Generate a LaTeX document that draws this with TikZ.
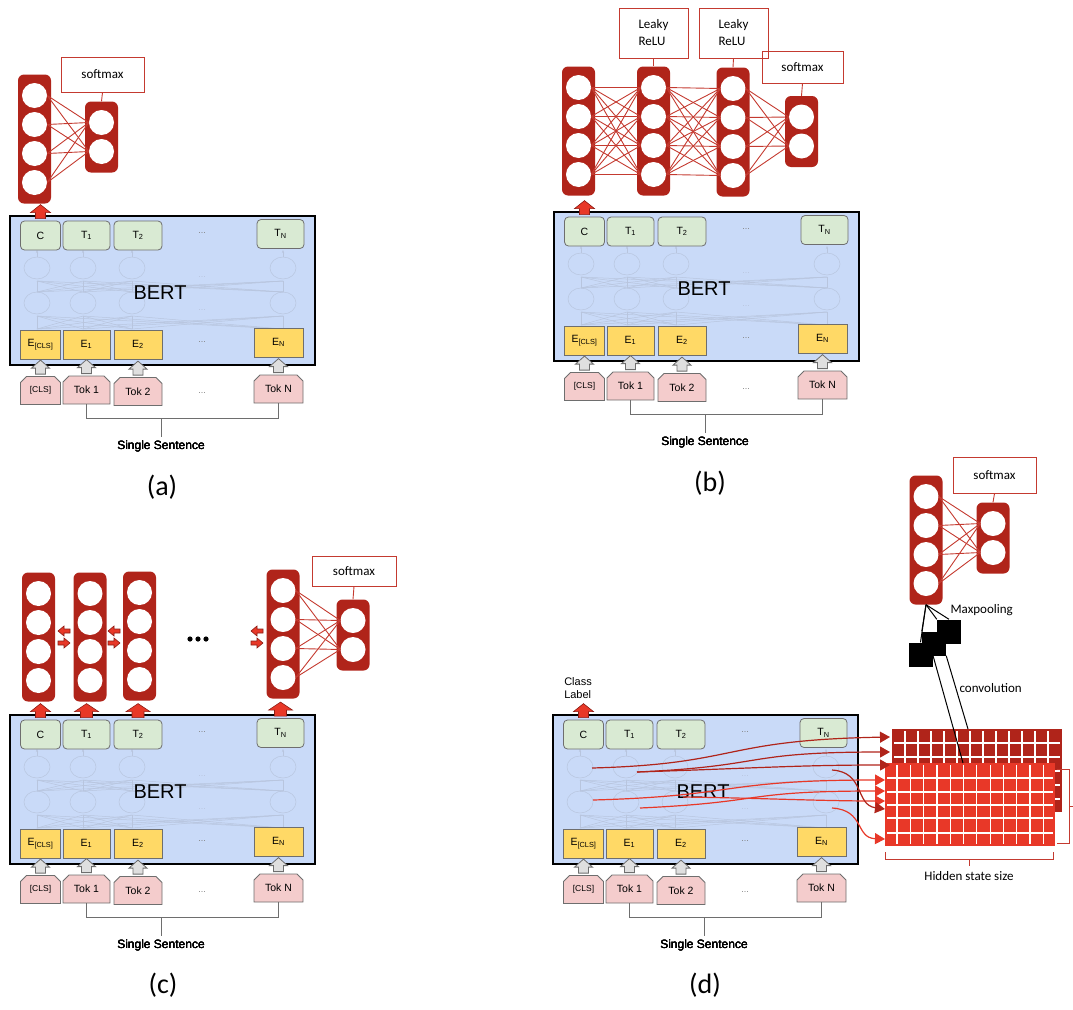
\documentclass[tikz,border=0pt]{standalone}
\usepackage{fontspec}
\setmainfont{Liberation Sans}
\newfontfamily\carlito{Carlito}
\usetikzlibrary{shapes.misc,arrows.meta}

\definecolor{bertblue}{RGB}{201,218,248}
\definecolor{outgreen}{RGB}{217,234,211}
\definecolor{embyellow}{RGB}{255,217,102}
\definecolor{tokpink}{RGB}{244,204,204}
\definecolor{nnred}{RGB}{176,36,26}
\definecolor{linkred}{RGB}{196,58,48}
\definecolor{hotred}{RGB}{232,56,40}
\definecolor{faintline}{RGB}{184,197,222}
\definecolor{edgegray}{RGB}{110,110,110}

\newcommand\nnlayer[4]{%
  \node[layerbox, minimum height={#4*29+13}] (#1) at (#2,#3) {};
  \foreach \k in {1,...,#4}
    \node[neuron] (#1-\k) at (#2,{#3+(\k-(#4+1)/2)*29}) {};
}
\newcommand\blockup[4]{\draw[#1] (#2) ++(-#3,-2) -- ++(0,-6) -- ++(-#4,0) -- ++({#3+#4},-8) -- ++({#3+#4},8) -- ++(-#4,0) -- ++(0,6) -- cycle;}
\newcommand\blockside[3]{\draw[#1] (#2) ++(0,-2) -- ++({(#3)/2},0) -- ++(0,-3) -- ++({(#3)/2},5) -- ++({-(#3)/2},5) -- ++(0,-3) -- ++({-(#3)/2},0) -- cycle;}

\tikzset{
  bertbox/.style={draw=black, line width=2pt, fill=bertblue, minimum width=305, minimum height=149, inner sep=0},
  outnode/.style={draw=edgegray, fill=outgreen, rounded corners=4, line width=0.8pt, minimum height=29, inner sep=0, font=\fontsize{10.5}{12}\selectfont},
  embnode/.style={draw=edgegray, fill=embyellow, line width=0.8pt, minimum height=29, inner sep=0, font=\fontsize{10.5}{12}\selectfont},
  toknode/.style={chamfered rectangle, chamfered rectangle corners={north west,north east}, chamfered rectangle xsep=3pt, chamfered rectangle ysep=3pt, draw=edgegray, fill=tokpink, line width=0.8pt, minimum height=28, inner sep=0, font=\fontsize{10.5}{12}\selectfont},
  faint/.style={faintline, line width=0.5pt},
  dotsnode/.style={text=gray, font=\fontsize{9}{10}\selectfont},
  grayarrow/.style={fill=gray!25, draw=edgegray, line width=0.8pt},
  redarrow/.style={fill=hotred, draw=nnred!80!black, line width=0.6pt},
  layerbox/.style={fill=nnred, rounded corners=6, minimum width=33, inner sep=0},
  neuron/.style={circle, fill=white, minimum size=25, inner sep=0},
  synapse/.style={linkred, line width=0.9pt},
  actbox/.style={draw=linkred, line width=1pt, inner sep=0, font=\carlito\fontsize{13}{17}\selectfont},
  panellabel/.style={font=\carlito\fontsize{28}{30}\selectfont},
  notetext/.style={font=\carlito\fontsize{13}{15}\selectfont},
  feed/.style={line width=1.2pt, -{Triangle[length=10pt,width=11pt]}},
  bertpanel/.pic={
    \node[bertbox] (box) at (162.5,290.5) {};
    \foreach \x in {37,83,132,283} {
      \draw[faint] (\x,268) ellipse (13 and 11);
      \draw[faint] (\x,303) ellipse (13 and 11);
      \draw[faint,-{Stealth[length=3pt]}] (\x,257) -- (\x,250);
      \foreach \y in {37,83,132,283} {
        \draw[faint] (\x,292) -- (\y,281);
        \draw[faint] (\x,329) -- (\y,316);
      }
    }
    \node[dotsnode, text=faintline] (d1) at (202,277) {...};
    \node[dotsnode, text=faintline] (d2) at (202,310) {...};
    \node[font=\fontsize{20}{24}\selectfont] (bert) at (160,293) {BERT};
    \node[outnode, minimum width=40] (C) at (40.5,235.5) {C};
    \node[outnode, minimum width=47] (T1) at (86.5,235.5) {T\textsubscript{1}};
    \node[outnode, minimum width=48] (T2) at (138,235.5) {T\textsubscript{2}};
    \node[outnode, minimum width=47] (TN) at (280.5,234) {T\textsubscript{N}};
    \node[dotsnode] (tdots) at (202,233) {...};
    \node[embnode, minimum width=40] (ECLS) at (40.5,344.5) {E\textsubscript{[CLS]}};
    \node[embnode, minimum width=47] (E1) at (86.5,344.5) {E\textsubscript{1}};
    \node[embnode, minimum width=48] (E2) at (138,344.5) {E\textsubscript{2}};
    \node[embnode, minimum width=49] (EN) at (278.5,342.5) {E\textsubscript{N}};
    \node[dotsnode] (edots) at (202,342) {...};
    \node[toknode, minimum width=40, font=\fontsize{8.5}{10}\selectfont] (CLS) at (40.5,390.5) {[CLS]};
    \node[toknode, minimum width=47] (Tok1) at (86.5,390) {Tok 1};
    \node[toknode, minimum width=48] (Tok2) at (138,391.5) {Tok 2};
    \node[toknode, minimum width=49] (TokN) at (278.5,389) {Tok N};
    \node[dotsnode] (kdots) at (202,393) {...};
    \foreach \n in {CLS,Tok1,Tok2,TokN}
      \blockup{grayarrow}{\n.north}{5}{4}
    \node[font=\fontsize{12}{14}\selectfont] (sent) at (161,446) {Single Sentence};
    \draw[edgegray, line width=0.8pt] (Tok1.south) -- ++(0,14) coordinate (sl) -- (sl -| TokN.south) -- (TokN.south);
    \draw[edgegray, line width=0.8pt] (sent.north) -- (sent.north |- sl);
  }
}

\begin{document}
\begin{tikzpicture}[x=1pt,y=-1pt]
\useasboundingbox (0,0) rectangle (1073,1009);

\pic (a) at (0,0) {bertpanel};
\pic (b) at (544,-4) {bertpanel};
\pic (c) at (0,499) {bertpanel};
\pic (d) at (543,499) {bertpanel};

% (a)
\nnlayer{a1}{34.5}{139}{4}
\nnlayer{a2}{101.5}{137}{2}
\foreach \i in {1,...,4} \foreach \j in {1,2} \draw[synapse] (a1-\i.east) -- (a2-\j.west);
\node[actbox, minimum width=83, minimum height=35] (asoft) at (102.5,74.5) {softmax};
\draw[synapse] (asoft.south) -- (a2.north);
\blockup{redarrow}{aC.north}{5}{5}
\node[panellabel] (la) at (162,487) {(a)};

% (b)
\nnlayer{b1}{578.5}{131}{4}
\nnlayer{b2}{653.5}{131}{4}
\nnlayer{b3}{733}{132}{4}
\nnlayer{b4}{801.5}{131.5}{2}
\foreach \i in {1,...,4} \foreach \j in {1,...,4} {
  \draw[synapse] (b1-\i.east) -- (b2-\j.west);
  \draw[synapse] (b2-\i.east) -- (b3-\j.west);
}
\foreach \i in {1,...,4} \foreach \j in {1,2} \draw[synapse] (b3-\i.east) -- (b4-\j.west);
\node[actbox, minimum width=81, minimum height=32] (bsoft) at (802.5,67) {softmax};
\node[actbox, minimum width=69, minimum height=50, align=left] (bleak1) at (653.5,33) {Leaky\\ReLU};
\node[actbox, minimum width=69, minimum height=50, align=left] (bleak2) at (733.5,33) {Leaky\\ReLU};
\draw[synapse] (bleak1.south) -- (b2.north);
\draw[synapse] (bleak2.south) -- (b3.north);
\draw[synapse] (bsoft.south) -- (b4.north);
\blockup{redarrow}{bC.north}{5}{5}
\node[panellabel] (lb) at (710,483) {(b)};

% (c)
\nnlayer{c1}{38.5}{637}{4}
\nnlayer{c2}{90}{637}{4}
\nnlayer{c3}{139.5}{636}{4}
\nnlayer{c4}{283}{634}{4}
\nnlayer{c5}{353}{635}{2}
\foreach \i in {1,...,4} \foreach \j in {1,2} \draw[synapse] (c4-\i.east) -- (c5-\j.west);
\node[actbox, minimum width=84, minimum height=30] (csoft) at (354,571) {softmax};
\draw[synapse] (csoft.south) -- (c5.north);
\blockside{redarrow}{70,631}{-12}
\blockside{redarrow}{58,643}{12}
\blockside{redarrow}{120,631}{-12}
\blockside{redarrow}{108,643}{12}
\blockside{redarrow}{263,631}{-12}
\blockside{redarrow}{251,643}{12}
\foreach \x in {190,198,206} \fill (\x,639) circle (2.6);
\blockup{redarrow}{cC.north}{5}{5}
\blockup{redarrow}{cT1.north}{6}{6}
\blockup{redarrow}{cT2.north}{6}{6}
\blockup{redarrow}{cTN.north}{6}{6}
\node[panellabel] (lc) at (163,985) {(c)};

% (d)
\node[font=\fontsize{11}{13}\selectfont, align=left] (dclass) at (578,688) {Class\\Label};
\blockup{redarrow}{dC.north}{5}{5}
\fill[nnred] (892,729) rectangle (1062,812);
\foreach \x in {905,918,...,1050} \draw[white, line width=1.2pt] (\x,731) -- (\x,810);
\foreach \y in {743,757,771,785,799} \draw[white, line width=1.2pt] (894,\y) -- (1060,\y);
\fill[hotred] (885,763) rectangle (1055,846);
\foreach \x in {897,910.3,...,1045} \draw[white, line width=1.2pt] (\x,765) -- (\x,844);
\foreach \y in {778,792,805,818,833} \draw[white, line width=1.2pt] (887,\y) -- (1053,\y);
\draw[feed, nnred] (592,768) .. controls (740,764) and (720,740) .. (890,737);
\draw[feed, nnred] (637,772) .. controls (770,766) and (740,752) .. (890,752);
\draw[feed, nnred] (637,772) .. controls (760,768) and (800,765) .. (890,765);
\draw[feed, hotred] (593,800) .. controls (740,796) and (720,780) .. (885,780);
\draw[feed, hotred] (640,808) .. controls (770,802) and (740,791) .. (885,791);
\draw[feed, hotred] (683,797) .. controls (760,798) and (820,801) .. (885,801);
\draw[feed, nnred] (832,770) .. controls (865,772) and (855,805) .. (885,809);
\draw[feed, hotred] (832,808) .. controls (865,810) and (855,838) .. (885,839);
\draw[linkred, line width=1pt] (885,852) -- (885,859) -- (1053,859) -- (1053,852);
\draw[linkred, line width=1pt] (969,859) -- (969,866);
\draw[linkred, line width=1pt] (1057,769) -- (1069,769) -- (1069,843) -- (1057,843);
\draw[linkred, line width=1pt] (1069,806) -- (1073,806);
\node[notetext] (dhidden) at (969,876) {Hidden state size};
\node[fill=black, minimum size=24, inner sep=0] (sq3) at (949,631.5) {};
\node[fill=black, minimum size=24, inner sep=0] (sq2) at (934,643.5) {};
\node[fill=black, minimum size=24, inner sep=0] (sq1) at (920.5,654.5) {};
\coordinate (backtop) at (968,729);
\coordinate (fronttop) at (963,763);
\draw[line width=1pt] (sq1.east) -- (fronttop);
\draw[line width=1pt] (sq2.south east) -- (backtop);
\node[notetext, anchor=west] (dconv) at (956,688) {convolution};
\nnlayer{d1}{926}{540}{4}
\nnlayer{d2}{993}{538}{2}
\foreach \i in {1,...,4} \foreach \j in {1,2} \draw[synapse] (d1-\i.east) -- (d2-\j.west);
\node[actbox, minimum width=83, minimum height=36] (dsoft) at (994.5,475) {softmax};
\draw[synapse] (dsoft.south) -- (d2.north);
\draw[line width=1pt] (d1.south) -- (sq1.north);
\draw[line width=1pt] (d1.south) -- (sq2.north west);
\draw[line width=1pt] (d1.south) -- (sq3.north west);
\draw[line width=1pt] (d1.south) -- (sq3.north);
\node[notetext, anchor=west] (dmax) at (947,610) {Maxpooling};
\node[panellabel] (ld) at (705,985) {(d)};
\end{tikzpicture}
\end{document}
